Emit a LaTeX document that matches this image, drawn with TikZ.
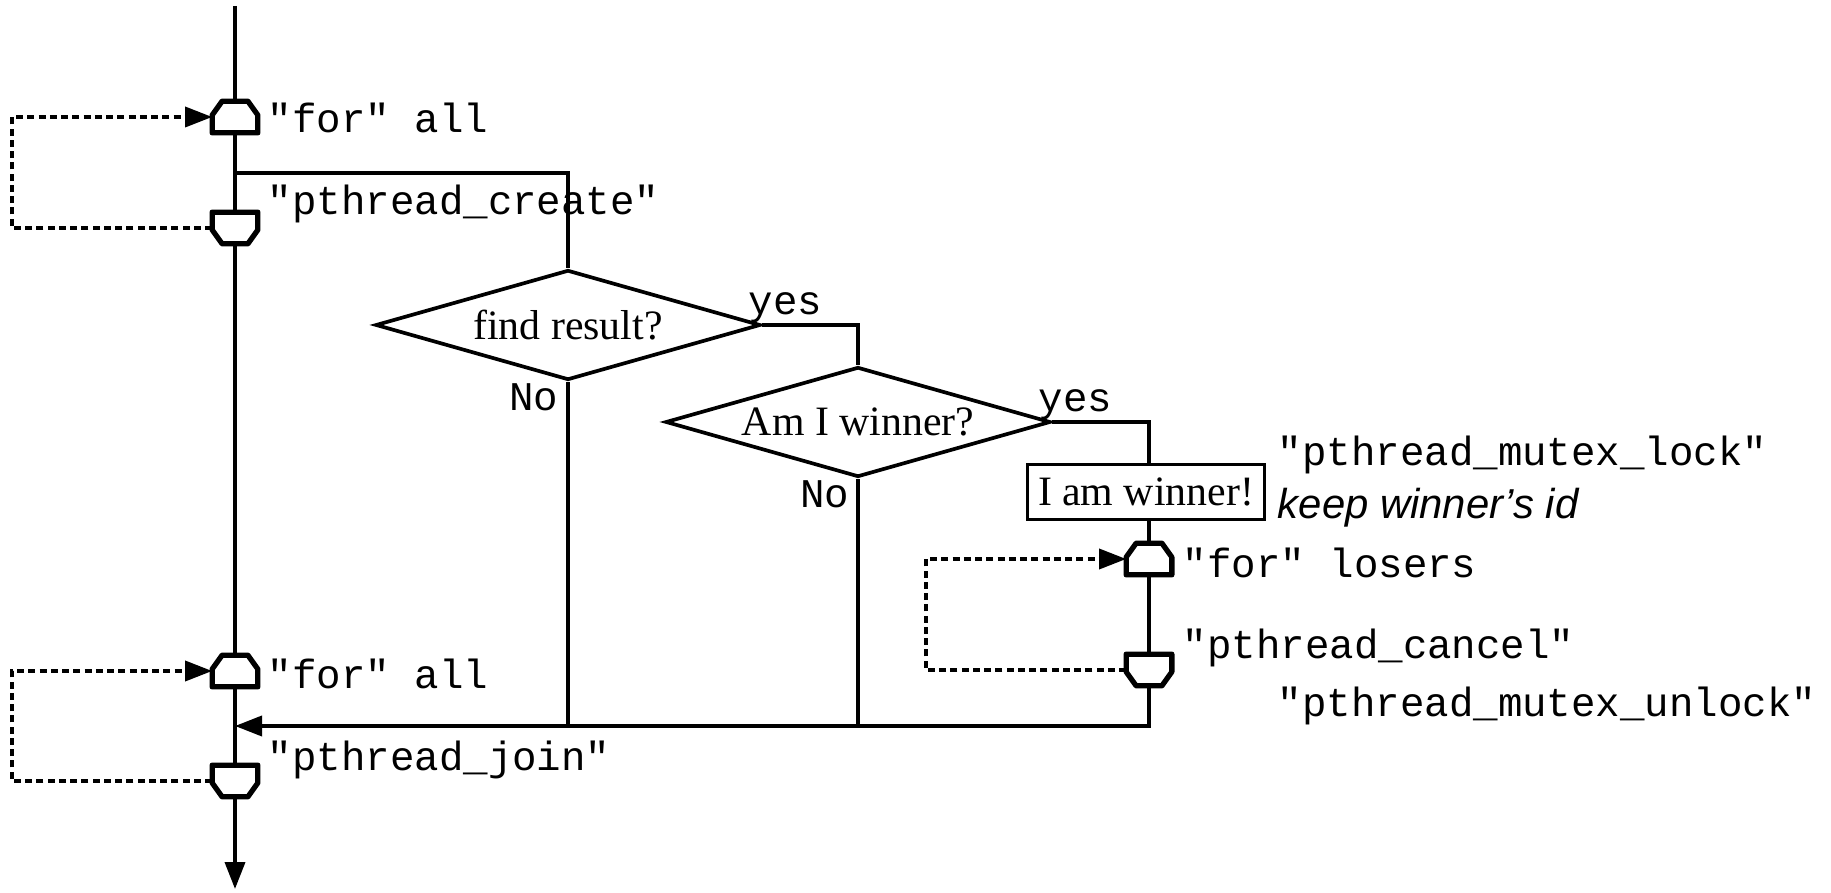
\documentclass[tikz,border=0pt]{standalone}
\usepackage{fontspec}
\setmainfont{Liberation Serif}
\setsansfont{Liberation Sans}
\setmonofont{Liberation Mono}
\usetikzlibrary{arrows.meta,shapes.geometric}

\tikzset{
	loopstart/.style={rectangle,minimum width=0.42cm,minimum height=0.28cm,inner sep=0pt},
	loopend/.style={loopstart},
	symline/.style={line width=1.5pt,line join=round},
	decision/.style={draw,diamond,aspect=3.5,minimum width=3.85cm,minimum height=1.1cm,inner sep=0pt},
	action/.style={draw,rectangle,minimum width=2.37cm,minimum height=0.55cm,inner sep=0pt},
	code/.style={font=\ttfamily\fontsize{11.6}{14}\selectfont,anchor=west,inner sep=0pt},
	loopback/.style={->,dash pattern=on 2pt off 1.2pt,line width=1pt}
}

\begin{document}
\begin{tikzpicture}[line width=1.05pt,>={Triangle[length=2.7mm,width=2mm]},
	font=\fontsize{11.9}{14}\selectfont]
		\useasboundingbox (0,0) rectangle (18.31,8.92);
		% main thread
		\coordinate (top) at (2.35,8.86);
		\coordinate (fork) at (2.35,7.19);
		\coordinate (join) at (2.35,1.66);
		\coordinate (bot) at (2.35,0.03);
		\node[loopstart] (forall1) at (2.35,7.75) {};
		\node[loopend] (create) at (2.35,6.64) {};
		\node[loopstart] (forall2) at (2.35,2.21) {};
		\node[loopend] (pjoin) at (2.35,1.11) {};
		% worker
		\node[decision] (found) at (5.68,5.67) {find result?};
		\node[decision] (winner) at (8.58,4.70) {Am I winner?};
		\node[action] (iamwin) at (11.46,4.00) {I am winner!};
		\node[loopstart] (forlose) at (11.49,3.33) {};
		\node[loopend] (cancel) at (11.49,2.22) {};
		% loop symbols
		\foreach \n in {forall1,forall2,forlose}
			\draw[symline] (\n.south west) -- ([yshift=-0.14cm]\n.north west) -- ([xshift=0.1cm]\n.north west)
				-- ([xshift=-0.1cm]\n.north east) -- ([yshift=-0.14cm]\n.north east) -- (\n.south east) -- cycle;
		\foreach \n in {create,pjoin,cancel}
			\draw[symline] (\n.north west) -- ([yshift=0.14cm]\n.south west) -- ([xshift=0.1cm]\n.south west)
				-- ([xshift=-0.1cm]\n.south east) -- ([yshift=0.14cm]\n.south east) -- (\n.north east) -- cycle;
		% labels
		\node[code] (lforall1) at (2.66,7.74) {"for" all};
		\node[code] (lcreate) at (2.66,6.88) {"pthread\_create"};
		\node[code] (lforall2) at (2.66,2.18) {"for" all};
		\node[code] (ljoin) at (2.66,1.32) {"pthread\_join"};
		\node[code] (yes1) at (7.47,5.84) {yes};
		\node[code,anchor=east] (no1) at (5.60,4.95) {No};
		\node[code] (yes2) at (10.37,4.87) {yes};
		\node[code,anchor=east] (no2) at (8.51,3.98) {No};
		\node[code] (llock) at (12.76,4.37) {"pthread\_mutex\_lock"};
		\node[anchor=west,inner sep=0pt,font=\sffamily\itshape\fontsize{11.9}{14}\selectfont] (lkeep) at (12.76,3.84) {keep winner’s id};
		\node[code] (llosers) at (11.81,3.29) {"for" losers};
		\node[code] (lcancel) at (11.81,2.44) {"pthread\_cancel"};
		\node[code] (lunlock) at (12.76,1.86) {"pthread\_mutex\_unlock"};
		% connectors
		\draw (top) -- (forall1.north);
		\draw (forall1.south) -- (create.north);
		\draw (create.south) -- (forall2.north);
		\draw (forall2.south) -- (pjoin.north);
		\draw[->] (pjoin.south) -- (bot);
		\draw (fork) -| (found.north);
		\draw (found.east) -| (winner.north);
		\draw (winner.east) -| (forlose.north |- iamwin.north);
		\draw (forlose.north |- iamwin.south) -- (forlose.north);
		\draw (forlose.south) -- (cancel.north);
		\draw[->] (cancel.south) |- (join);
		\draw (found.south) -- (found.south |- join);
		\draw (winner.south) -- (winner.south |- join);
		% loops
		\draw[loopback] (create.west) -- ++(-2,0) |- (forall1.west);
		\draw[loopback] (pjoin.west) -- ++(-2,0) |- (forall2.west);
		\draw[loopback] (cancel.west) -- ++(-2,0) |- (forlose.west);
	\end{tikzpicture}
\end{document}
